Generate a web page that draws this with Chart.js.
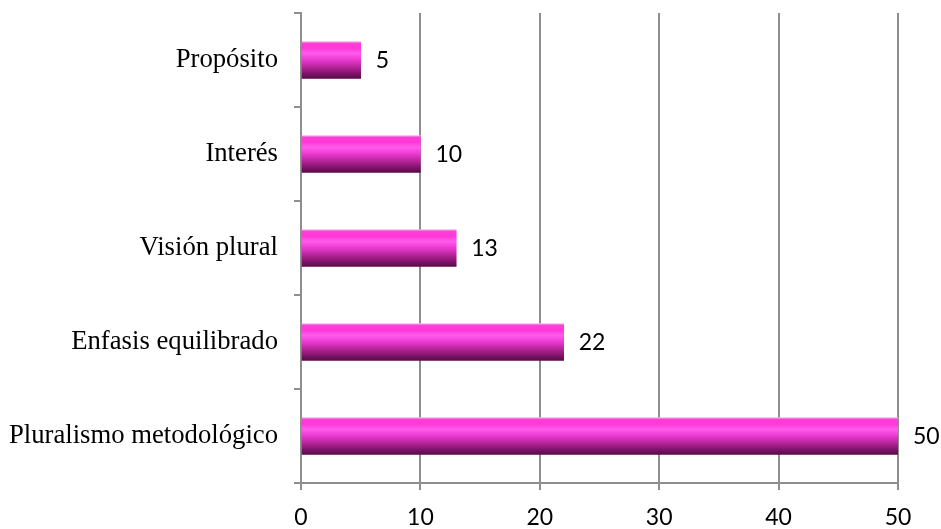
<!DOCTYPE html>
<html>
<head>
<meta charset="utf-8">
<script src="https://cdn.jsdelivr.net/npm/chart.js@4/dist/chart.umd.min.js"></script>
<style>
  html, body { margin: 0; padding: 0; background: #ffffff; }
  #wrap { width: 941px; height: 529px; }
</style>
</head>
<body>
<div id="wrap"><canvas id="c" width="941" height="529"></canvas></div>
<script>
// Categories (top to bottom) and their counts
const categories = ['Propósito', 'Interés', 'Visión plural', 'Enfasis equilibrado', 'Pluralismo metodológico'];
const values = [5, 10, 13, 22, 50];
const xTickValues = [0, 10, 20, 30, 40, 50];

const AXIS_GREY = '#8e8e8e';
const BAR_THICKNESS = 37;

// Vertical magenta sheen for each bar, computed from the bar's own band position
function barFill(ctx) {
  const chart = ctx.chart;
  const ys = chart.scales && chart.scales.y;
  if (!ys || ctx.type !== 'data') return '#ff33cc';
  const cy = ys.getPixelForValue(ctx.dataIndex);
  if (!Number.isFinite(cy)) return '#ff33cc';
  const h = BAR_THICKNESS / 2;
  const g = chart.ctx.createLinearGradient(0, cy - h, 0, cy + h);
  g.addColorStop(0.00, '#f4b4ea');
  g.addColorStop(0.05, '#ff3fd6');
  g.addColorStop(0.18, '#ff38d8');
  g.addColorStop(0.32, '#ff5cec');
  g.addColorStop(0.48, '#ee3cd4');
  g.addColorStop(0.68, '#b8259c');
  g.addColorStop(0.88, '#7c1266');
  g.addColorStop(1.00, '#5a0a4a');
  return g;
}

// Value labels to the right of each bar
const valueLabels = {
  id: 'valueLabels',
  afterDatasetsDraw(chart) {
    const ctx = chart.ctx;
    const meta = chart.getDatasetMeta(0);
    ctx.save();
    ctx.font = '23px Lato';
    ctx.fillStyle = '#000000';
    ctx.textAlign = 'left';
    ctx.textBaseline = 'middle';
    meta.data.forEach((bar, i) => {
      ctx.fillText(String(values[i]), bar.x + 15, bar.y + 1);
    });
    ctx.restore();
  }
};

const chart = new Chart(document.getElementById('c'), {
  type: 'bar',
  data: {
    labels: categories,
    datasets: [{
      data: values,
      backgroundColor: barFill,
      borderWidth: 0,
      barThickness: BAR_THICKNESS
    }]
  },
  options: {
    indexAxis: 'y',
    responsive: false,
    animation: false,
    devicePixelRatio: 1,
    layout: { padding: { left: 0, right: 43, top: 13, bottom: 0 } },
    plugins: {
      legend: { display: false },
      tooltip: { enabled: false }
    },
    scales: {
      x: {
        type: 'linear',
        min: 0,
        max: 50,
        afterBuildTicks(scale) {
          scale.ticks = xTickValues.map(v => ({ value: v }));
        },
        afterFit(scale) {
          scale.height = 46;
          scale.paddingLeft = 0;
          scale.paddingRight = 0;
        },
        grid: {
          color: AXIS_GREY,
          lineWidth: 2,
          drawTicks: true,
          tickLength: 7
        },
        border: { display: true, color: AXIS_GREY, width: 2 },
        ticks: {
          color: '#000000',
          font: { family: 'Lato', size: 23 },
          padding: 14
        }
      },
      y: {
        type: 'category',
        afterFit(scale) {
          scale.width = 301;
          scale.paddingTop = 0;
          scale.paddingBottom = 0;
        },
        grid: {
          offset: true,
          drawOnChartArea: false,
          drawTicks: true,
          tickLength: 7,
          color: AXIS_GREY,
          lineWidth: 2
        },
        border: { display: true, color: AXIS_GREY, width: 2 },
        ticks: {
          color: '#000000',
          font: { family: 'Liberation Serif', size: 26.7 },
          padding: 16
        }
      }
    }
  },
  plugins: [valueLabels]
});
// second pass so the gradients use laid-out scale positions
chart.update();
</script>
</body>
</html>
